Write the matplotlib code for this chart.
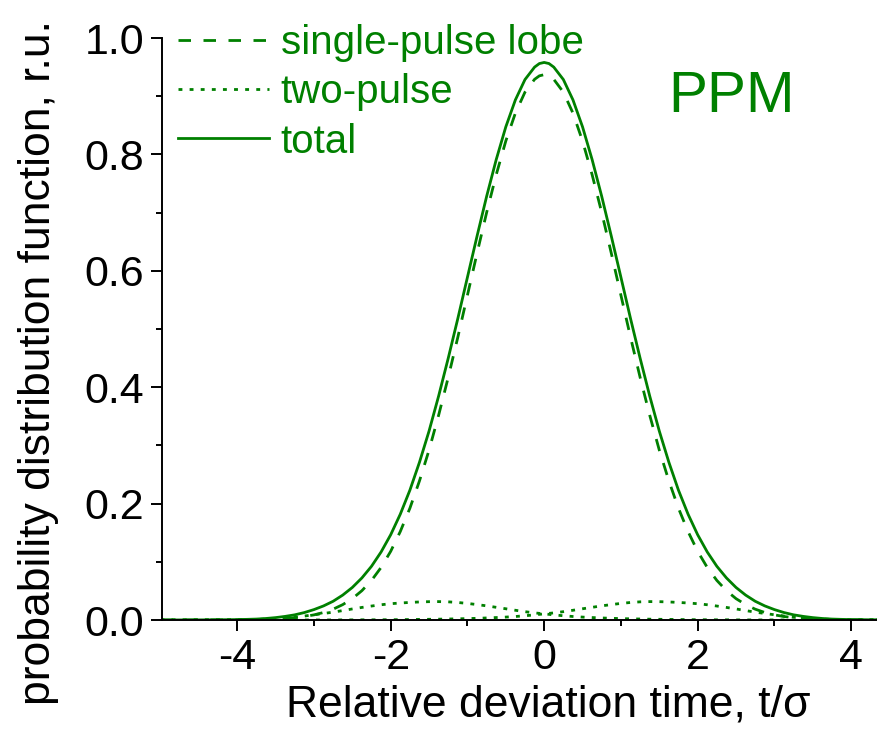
import matplotlib
matplotlib.use('Agg')
import matplotlib.pyplot as plt

plt.rcParams['font.family'] = ['Liberation Sans', 'DejaVu Sans']
plt.rcParams['axes.unicode_minus'] = False

# relative deviation time t/sigma
t_sigma = [-5.0, -4.75, -4.5, -4.25, -4.0, -3.875, -3.75, -3.625, -3.5, -3.375, -3.25, -3.125,
           -3.0, -2.875, -2.75, -2.625, -2.5, -2.375, -2.25, -2.125, -2.0, -1.875, -1.75, -1.625,
           -1.5, -1.375, -1.25, -1.125, -1.0, -0.875, -0.75, -0.625, -0.5, -0.375, -0.25, -0.125,
           -0.0625, 0.0, 0.0625,
           0.125, 0.25, 0.375, 0.5, 0.625, 0.75, 0.875, 1.0, 1.125, 1.25, 1.375, 1.5, 1.625, 1.75,
           1.875, 2.0, 2.125, 2.25, 2.375, 2.5, 2.625, 2.75, 2.875, 3.0, 3.125, 3.25, 3.375, 3.5,
           3.625, 3.75, 3.875, 4.0, 4.25, 4.5]

# single-pulse lobe (dashed)
single_pulse = [0.0, 0.0, 0.0, 0.0001, 0.0002, 0.0004, 0.0006, 0.001, 0.0016, 0.0026, 0.0039, 0.006,
                0.0088, 0.0129, 0.0186, 0.0264, 0.0367, 0.0504, 0.068, 0.0903, 0.118, 0.152, 0.192, 0.239,
                0.292, 0.352, 0.417, 0.486, 0.558, 0.630, 0.700, 0.765, 0.823, 0.871, 0.907, 0.929,
                0.935, 0.937, 0.935,
                0.929, 0.907, 0.871, 0.823, 0.765, 0.700, 0.630, 0.558, 0.486, 0.417, 0.352, 0.292, 0.239, 0.192,
                0.152, 0.118, 0.0903, 0.068, 0.0504, 0.0367, 0.0264, 0.0186, 0.0129, 0.0088, 0.006, 0.0039, 0.0026, 0.0016,
                0.001, 0.0006, 0.0004, 0.0002, 0.0001, 0.0]

# two-pulse contribution (dotted), hump on the left
two_pulse_left = [0.0, 0.0001, 0.0002, 0.0003, 0.0005, 0.0007, 0.001, 0.0016, 0.0025, 0.0036, 0.005, 0.0068,
                  0.009, 0.0112, 0.0135, 0.0162, 0.019, 0.0216, 0.024, 0.0262, 0.028, 0.0292, 0.0302, 0.031,
                  0.0315, 0.0316, 0.0312, 0.0301, 0.0285, 0.0265, 0.0243, 0.0218, 0.0193, 0.0167, 0.0143, 0.0122,
                  0.0114, 0.0105, 0.0097,
                  0.0088, 0.0073, 0.006, 0.005, 0.0042, 0.0035, 0.0029, 0.0024, 0.002, 0.0017, 0.0014, 0.0012, 0.001, 0.0008,
                  0.0006, 0.0005, 0.0004, 0.0003, 0.0003, 0.0002, 0.0002, 0.0001, 0.0001, 0.0001, 0.0, 0.0, 0.0, 0.0,
                  0.0, 0.0, 0.0, 0.0, 0.0, 0.0]

# two-pulse contribution (dotted), hump on the right
two_pulse_right = [0.0, 0.0, 0.0, 0.0, 0.0, 0.0, 0.0, 0.0, 0.0, 0.0, 0.0, 0.0,
                   0.0001, 0.0001, 0.0001, 0.0002, 0.0002, 0.0003, 0.0003, 0.0004, 0.0005, 0.0006, 0.0008, 0.001,
                   0.0012, 0.0014, 0.0017, 0.002, 0.0024, 0.0029, 0.0035, 0.0042, 0.005, 0.006, 0.0073, 0.0088,
                   0.0097, 0.0105, 0.0114,
                   0.0122, 0.0143, 0.0167, 0.0193, 0.0218, 0.0243, 0.0265, 0.0285, 0.0301, 0.0312, 0.0316, 0.0315, 0.031, 0.0302,
                   0.0292, 0.028, 0.0262, 0.024, 0.0216, 0.019, 0.0162, 0.0135, 0.0112, 0.009, 0.0068, 0.005, 0.0036, 0.0025,
                   0.0016, 0.001, 0.0007, 0.0005, 0.0003, 0.0002]

# total (solid)
total = [0.0, 0.0001, 0.0002, 0.0004, 0.0007, 0.0011, 0.0016, 0.0026, 0.0041, 0.0062, 0.0089, 0.0128,
         0.0179, 0.0242, 0.0322, 0.0428, 0.0559, 0.0723, 0.0923, 0.1169, 0.1465, 0.1818, 0.223, 0.271,
         0.3247, 0.385, 0.4499, 0.5181, 0.5889, 0.6594, 0.7278, 0.791, 0.8473, 0.8937, 0.9286, 0.950,
         0.9561, 0.958, 0.9561,
         0.950, 0.9286, 0.8937, 0.8473, 0.791, 0.7278, 0.6594, 0.5889, 0.5181, 0.4499, 0.385, 0.3247, 0.271, 0.223,
         0.1818, 0.1465, 0.1169, 0.0923, 0.0723, 0.0559, 0.0428, 0.0322, 0.0242, 0.0179, 0.0128, 0.0089, 0.0062, 0.0041,
         0.0026, 0.0016, 0.0011, 0.0007, 0.0004, 0.0002]

green = '#008000'
fontsize = 32
labelsize = 31
legendsize = 29

fig = plt.figure(figsize=(8.78, 7.33), dpi=100)
ax = fig.add_axes([162 / 878, 1 - 620 / 733, (878 - 162) / 878, 582 / 733])

ax.plot(t_sigma, single_pulse, color=green, lw=2, dashes=(4.5, 4.5), label='single-pulse lobe')
ax.plot(t_sigma, two_pulse_left, color=green, lw=2, dashes=(1.4, 2.6), label='two-pulse')
ax.plot(t_sigma, two_pulse_right, color=green, lw=2, dashes=(1.4, 2.6))
ax.plot(t_sigma, total, color=green, lw=2, label='total')

ax.set_xlim(-4.98, 4.35)
ax.set_ylim(0, 1.0)

ax.spines['top'].set_visible(False)
ax.spines['right'].set_visible(False)
for s in ['left', 'bottom']:
    ax.spines[s].set_linewidth(1.4)

ax.set_xticks([-4, -2, 0, 2, 4])
ax.set_xticks([-3, -1, 1, 3], minor=True)
ax.set_yticks([0.0, 0.2, 0.4, 0.6, 0.8, 1.0])
ax.set_yticks([0.1, 0.3, 0.5, 0.7, 0.9], minor=True)
ax.set_yticklabels(['0.0', '0.2', '0.4', '0.6', '0.8', '1.0'])
ax.tick_params(which='major', direction='out', length=8, width=1.4, labelsize=labelsize, pad=5)
ax.tick_params(which='minor', direction='out', length=4.5, width=1.4)

ax.set_xlabel('Relative deviation time, t/\u03c3', fontsize=fontsize, va='center')
ax.xaxis.set_label_coords(0.539, -0.146)
ax.set_ylabel('probability distribution function, r.u.', fontsize=fontsize, va='center')
ax.yaxis.set_label_coords(-0.172, 0.443)

leg = ax.legend(loc='upper left', bbox_to_anchor=(178 / 878, 1 - 24 / 733), bbox_transform=fig.transFigure,
                frameon=False, fontsize=legendsize, handlelength=2.25, handletextpad=0.3,
                labelspacing=0.28, borderpad=0, borderaxespad=0)
for txt in leg.get_texts():
    txt.set_color(green)

ax.text(0.707, 0.899, 'PPM', color=green, fontsize=42, va='center', ha='left', transform=ax.transAxes)

plt.savefig('out.png', dpi=100)
